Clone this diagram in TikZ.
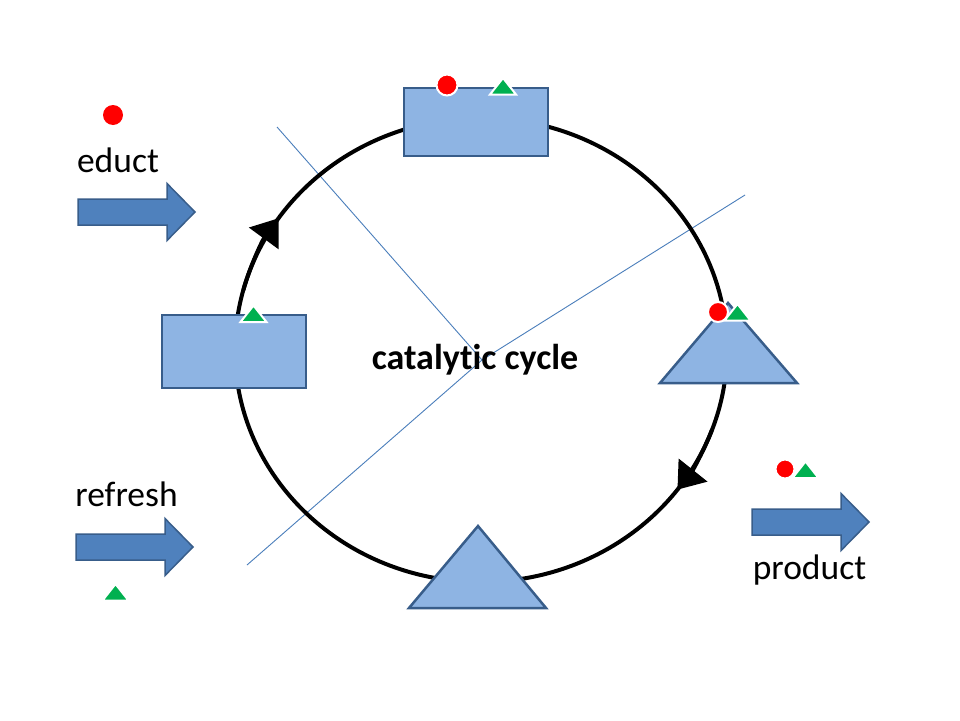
\documentclass[tikz,border=0pt]{standalone}
\usepackage{fontspec}
\setmainfont{Carlito}[Ligatures=NoCommon]
\usetikzlibrary{arrows.meta}
\definecolor{shapefill}{HTML}{8EB4E3}
\definecolor{shapeline}{HTML}{385D8A}
\definecolor{arrowfill}{HTML}{4F81BD}
\definecolor{thinblue}{HTML}{4A7EBB}
\definecolor{dotred}{HTML}{FF0000}
\definecolor{trigreen}{HTML}{00B050}
\begin{document}
\begin{tikzpicture}[x=1pt,y=-1pt,
  box/.style={draw=shapeline, fill=shapefill, line width=2.5pt, inner sep=0pt},
  tri/.style={draw=shapeline, fill=shapefill, line width=2.5pt, line join=miter},
  blockarrow/.style={draw=shapeline, fill=arrowfill, line width=1.5pt},
  cyc/.style={line width=4pt, draw=black},
  thinline/.style={draw=thinblue, line width=0.9pt},
  reddot/.style={circle, fill=dotred, draw=white, line width=2pt, minimum size=21pt, inner sep=0pt},
  label/.style={font=\fontsize{35.5}{42}\selectfont, anchor=base, inner sep=0pt},
  gtri/.pic={\path[fill=trigreen, draw=white, line width=2pt, line join=miter] (0,-8.5) -- (13,8) -- (-13,8) -- cycle;},
  barrow/.pic={\path[blockarrow] (0,-13) -- (89,-13) -- (89,-28.5) -- (117,0) -- (89,28.5) -- (89,13) -- (0,13) -- cycle;}
]
\useasboundingbox (0,0) rectangle (960,720);
\fill[white] (0,0) rectangle (960,720);

% thin spokes
\coordinate (hub) at (482,360);
\coordinate (a1) at (277,127);
\coordinate (b1) at (745,195);
\coordinate (b2) at (247,565);
\draw[thinline] (a1) -- (hub);
\draw[thinline] (b1) -- (hub) -- (b2);

% cycle
\coordinate (C) at (481,350);
\draw[cyc] (C) ellipse [x radius=246, y radius=232];
\draw[cyc, -{Triangle[length=25pt,width=36pt]}] ([shift={(195:246 and 232)}]C) arc[start angle=195, end angle=214.6, x radius=246, y radius=232];
\draw[cyc, -{Triangle[length=25pt,width=36pt]}] ([shift={(20:246 and 232)}]C) arc[start angle=20, end angle=37, x radius=246, y radius=232];

% shapes on the cycle
\node[box, minimum width=144pt, minimum height=68pt] (topbox) at (476,122) {};
\node[box, minimum width=144pt, minimum height=73pt] (leftbox) at (234,351.5) {};
\path[tri] (728,303) -- (797,383) -- (660,383) -- cycle;
\path[tri] (478,526) -- (546,608) -- (409,608) -- cycle;

% markers
\node[reddot] (rtop) at (447,85) {};
\pic at (503,86.5) {gtri};
\node[reddot, minimum size=20pt] (rright) at (718,312) {};
\pic at (737.5,312.5) {gtri};
\pic at (253.5,314) {gtri};

% block arrows
\pic at (78,212) {barrow};
\pic at (76,547) {barrow};
\pic at (752,522) {barrow};

% educt / refresh / product markers
\node[reddot, draw=none, minimum size=20pt] (redu) at (113,115) {};
\pic at (115.5,592.5) {gtri};
\node[reddot, minimum size=19pt] (rprod) at (785,469) {};
\pic at (805.5,470) {gtri};

% labels
\node[label] (educt) at (118,172) {educt};
\node[label] (refresh) at (126.5,506) {refresh};
\node[label] (product) at (809.5,579) {product};
\node[label, font=\bfseries\fontsize{36}{42}\selectfont] (cat) at (475,369) {catalytic cycle};
\end{tikzpicture}
\end{document}
